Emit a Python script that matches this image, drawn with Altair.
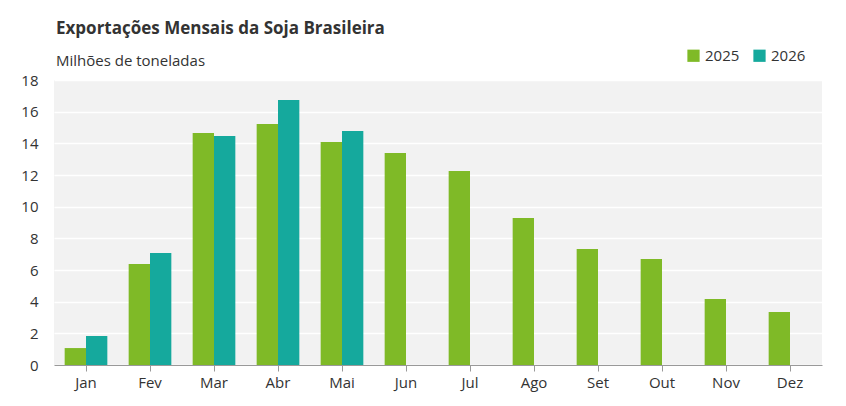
import altair as alt
import pandas as pd

months = ["Jan", "Fev", "Mar", "Abr", "Mai", "Jun", "Jul", "Ago", "Set", "Out", "Nov", "Dez"]
v2025 = [1.07, 6.38, 14.66, 15.22, 14.09, 13.39, 12.25, 9.29, 7.33, 6.70, 4.17, 3.35]
v2026 = [1.83, 7.07, 14.47, 16.74, 14.78]

rows = [{"Mês": m, "Ano": "2025", "Valor": v} for m, v in zip(months, v2025)]
rows += [{"Mês": m, "Ano": "2026", "Valor": v} for m, v in zip(months, v2026)]
df = pd.DataFrame(rows)

font = "Open Sans"

chart = alt.Chart(df).mark_bar().encode(
    x=alt.X("Mês:N", sort=months, title=None,
            scale=alt.Scale(paddingInner=0.0, paddingOuter=0.0),
            axis=alt.Axis(labelAngle=0, labelFontSize=15, labelColor="#333", labelFont=font,
                          domainColor="#999", tickColor="#999", tickSize=6, labelPadding=4)),
    xOffset=alt.XOffset("Ano:N", scale=alt.Scale(paddingInner=0.0, paddingOuter=0.5)),
    y=alt.Y("Valor:Q", title=None, scale=alt.Scale(domain=[0, 18]),
            axis=alt.Axis(values=list(range(0, 19, 2)), labelFontSize=15, labelColor="#333", labelFont=font,
                          gridColor="white", gridWidth=1.5, domain=False, ticks=False, labelPadding=16)),
    color=alt.Color("Ano:N", scale=alt.Scale(domain=["2025", "2026"], range=["#7fba27", "#15a99d"]),
                    legend=alt.Legend(title=None, orient="none", legendX=632, legendY=-32,
                                      direction="horizontal",
                                      symbolType="square", symbolSize=150, labelFontSize=15,
                                      labelFont=font, labelColor="#333",
                                      symbolStrokeWidth=0, padding=0, columnPadding=12)),
).properties(
    width=768, height=285, background="white",
    title=alt.TitleParams("Exportações Mensais da Soja Brasileira",
                          subtitle="Milhões de toneladas", anchor="start", frame="group",
                          font=font, fontSize=17, fontWeight="bold", color="#333",
                          subtitleFont=font, subtitleFontSize=15, subtitleColor="#333",
                          subtitlePadding=16, offset=-22, dx=2),
    padding={"left": 12, "top": 12, "right": 12, "bottom": 5},
).configure_view(fill="#f2f2f2", stroke=None)

chart.save("out.html", embed_options={"renderer": "svg", "actions": False})
